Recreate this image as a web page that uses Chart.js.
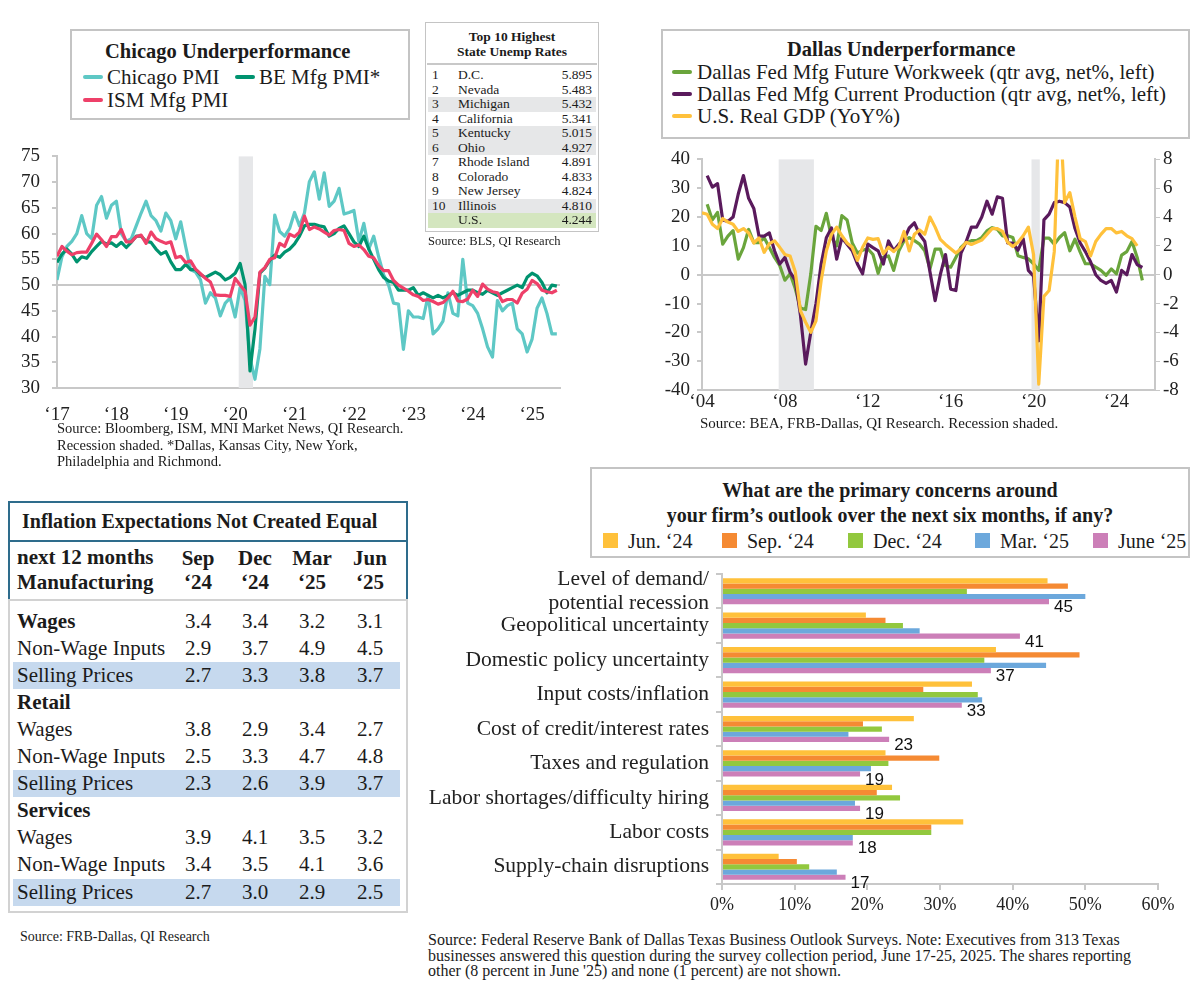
<!DOCTYPE html>
<html>
<head>
<meta charset="utf-8">
<title>Regional manufacturing</title>
<script src="https://cdn.jsdelivr.net/npm/chart.js@4.4.1/dist/chart.umd.min.js"></script>
<style>
  body { margin: 0; background: #fff; }
  #page { position: relative; width: 1200px; height: 993px; overflow: hidden; font-family: "Liberation Serif", serif; color: #1b1b1b; }
  .abs { position: absolute; white-space: nowrap; }
  .box { position: absolute; border: 2px solid #c4c4c4; background: #fff; box-sizing: border-box; }
  .key { position: absolute; height: 4px; width: 20px; border-radius: 2px; }
  .sq { position: absolute; width: 15px; height: 15px; }
  .b { font-weight: bold; }
</style>
</head>
<body>
<div id="page">
  <canvas id="chiChart" class="abs" width="575" height="290" style="left:0;top:133px"></canvas>
  <canvas id="dalChart" class="abs" width="560" height="280" style="left:640px;top:141px"></canvas>
  <canvas id="barChart" class="abs" width="780" height="365" style="left:420px;top:555px"></canvas>

  <!-- Chicago legend -->
  <div class="box" style="left:70px;top:29px;width:340px;height:91px"></div>
  <div class="abs b" style="left:105px;top:39px;font-size:20.5px;line-height:24px">Chicago Underperformance</div>
  <div class="key" style="left:83px;top:75px;background:#5ec8c5"></div>
  <div class="abs" style="left:107px;top:65px;font-size:21px;line-height:24px">Chicago PMI</div>
  <div class="key" style="left:235px;top:75px;background:#00936f"></div>
  <div class="abs" style="left:259px;top:65px;font-size:21px;line-height:24px">BE Mfg PMI*</div>
  <div class="key" style="left:83px;top:98px;background:#ee4069"></div>
  <div class="abs" style="left:107px;top:88px;font-size:21px;line-height:24px">ISM Mfg PMI</div>

  <!-- Top 10 table -->
  <div id="top10"></div>
  <div class="abs" style="left:428px;top:233px;font-size:12.5px;line-height:16px">Source: BLS, QI Research</div>

  <div class="abs" style="left:57px;top:420px;font-size:14.5px;line-height:16.5px">Source: Bloomberg, ISM, MNI Market News, QI Research.<br>Recession shaded. *Dallas, Kansas City, New York,<br>Philadelphia and Richmond.</div>

  <!-- Dallas legend -->
  <div class="box" style="left:661px;top:29px;width:529px;height:110px"></div>
  <div class="abs b" style="left:787px;top:37px;font-size:20.5px;line-height:24px">Dallas Underperformance</div>
  <div class="key" style="left:672px;top:70px;background:#6aa53c"></div>
  <div class="abs" style="left:697px;top:60px;font-size:21px;line-height:24px">Dallas Fed Mfg Future Workweek (qtr avg, net%, left)</div>
  <div class="key" style="left:672px;top:92px;background:#5a1a5c"></div>
  <div class="abs" style="left:697px;top:82px;font-size:21px;line-height:24px">Dallas Fed Mfg Current Production (qtr avg, net%, left)</div>
  <div class="key" style="left:672px;top:114px;background:#ffc13b"></div>
  <div class="abs" style="left:697px;top:104px;font-size:21px;line-height:24px">U.S. Real GDP (YoY%)</div>
  <div class="abs" style="left:700px;top:414px;font-size:15px;line-height:18px">Source: BEA, FRB-Dallas, QI Research. Recession shaded.</div>

  <!-- Inflation table -->
  <div id="infl"></div>
  <div class="abs" style="left:20px;top:928px;font-size:14px;line-height:18px">Source: FRB-Dallas, QI Research</div>

  <!-- Survey legend -->
  <div class="box" style="left:590px;top:467px;width:600px;height:91px"></div>
  <div class="abs b" style="left:590px;top:478px;width:600px;text-align:center;font-size:20px;line-height:25px">What are the primary concerns around<br>your firm’s outlook over the next six months, if any?</div>
  <div id="barKey"></div>

  <div class="abs" style="left:428px;top:932px;font-size:16px;line-height:15.5px">Source: Federal Reserve Bank of Dallas Texas Business Outlook Surveys. Note: Executives from 313 Texas<br>businesses answered this question during the survey collection period, June 17-25, 2025. The shares reporting<br>other (8 percent in June '25) and none (1 percent) are not shown.</div>
</div>

<script>
// ---------- Chicago PMI panel (monthly, Jan 2017 - Jun 2025) ----------
const chiStartYear = 2017;
const chicagoPmi = [
  51, 55.5, 57.5, 58.5, 60, 63.5, 60, 59, 65.5, 67.2, 63, 65.5,
  66.3, 60, 58.5, 59, 61.5, 64, 66.3, 63.5, 62.5, 60.5, 64, 62.5,
  59, 62.3, 57.5, 53, 52.5, 51, 46.5, 48.5, 47.5, 44, 46.5, 47.5,
  43.8, 49.5, 47, 35.8, 31.7, 37.6, 51.7, 50.1, 63.6, 60.4, 59.5, 61,
  64.1, 61.5, 64, 70.1, 72, 66.7, 71.8, 65.3, 66.3, 68.8, 63.8, 64.1,
  64.5, 58.5, 62, 57, 59.5, 55.5, 52, 50, 46.5, 46.3, 37.5, 45,
  43.8, 43.8, 43.5, 48, 40.5, 41.5, 43, 48.5, 44.5, 44, 55, 46.5,
  46, 44.5, 41.5, 38, 36, 47, 45, 46, 46.5, 41.5, 40.5, 37,
  39.5, 45.5, 47.5, 44.5, 40.5, 40.5
];
const beMfgPmi = [
  54.4, 56, 57, 56, 54.5, 55.5, 55.2, 56.5, 57.5, 58.5, 58, 58.2,
  57.5, 58.3, 57.3, 58.3, 59.5, 59.5, 58.5, 58.3, 57, 56, 56.5, 54.5,
  53, 53, 54, 53, 53, 52, 51.5, 52, 52.5, 52, 51, 51.5,
  52.3, 54.2, 50.1, 33.3, 41.4, 52.3, 53.3, 54.8, 55.8, 55.4, 56.4, 57,
  58, 59.5, 61.5, 61.8, 61.8, 61.5, 61.3, 59.5, 60, 61, 61.5, 60,
  58.4, 57.5, 59.5, 57, 55, 53, 51.5, 50.8, 50.5, 49, 49, 49,
  49.5, 48, 48.5, 48, 47.5, 48, 47.5, 48, 48.5, 48, 48.5, 49,
  49, 48.5, 48.2, 49, 48.5, 48, 48.5, 49, 49.5, 50, 49.5, 51.5,
  52.3, 51.8, 50.5, 48.5, 50, 49.8
];
const ismMfgPmi = [
  55.6, 57.5, 56.6, 55.9, 56.3, 56.4, 56.4, 58.1, 59.9, 58.8, 57.5, 59.4,
  59.4, 60.8, 58.4, 58.4, 59.4, 59.7, 58.1, 60.3, 59, 58.5, 58.1, 58.4,
  55.3, 55.6, 54.4, 54.7, 53.1, 52.2, 51.3, 50.6, 48.1, 48, 48, 47.8,
  51.3, 50, 48.8, 42.2, 43.8, 52.5, 53.4, 55, 55.3, 58.1, 57.5, 59.9,
  59.4, 60.3, 63.4, 60.8, 61.3, 60.9, 60.3, 59.7, 60.6, 60.8, 60.6, 58.1,
  57.5, 57.8, 56.9, 55.6, 55.3, 53.8, 52.8, 52.8, 50.9, 50, 49.4, 48.8,
  48.1, 47.8, 47, 47.2, 46.8, 46.3, 46.6, 47.5, 48.8, 46.9, 46.8, 47.3,
  49, 47.8, 50.2, 49.2, 48.7, 48.5, 46.8, 47.2, 47.2, 46.5, 48.4, 49.2,
  50.9, 50.3, 49, 48.7, 48.5, 49
];
const chiYearTicks = [2017, 2018, 2019, 2020, 2021, 2022, 2023, 2024, 2025];
const chiRecessions = [[2020.06, 2020.3]];

// ---------- Dallas panel (quarterly, Q1 2004 - Q2 2025) ----------
const dalStartYear = 2004;
const dalWorkweek = [
  null, 24.4, 19, 21.6, 10.6, 13.4, 15.3, 5.4, 9.4, 15.7, 11.1, 11.1,
  12.8, 9.4, 6, 3.2, -1.9, 0.3, -4.8, -11.6, -12.1, 0.3, 16.8, 15.3,
  21.3, 13, 10, 20.5, 19, 11, 7.5, 8.5, 9, 7, 0.5, 6,
  6.5, 1.5, 8.3, 11.8, 12.9, 11.8, 10.6, 8.3, 2, 8.9, 8.9, 3.2,
  2.6, 6, 9.5, 11.2, 11.8, 11.8, 12.9, 15.2, 16.3, 15.8, 13.5, 13.5,
  12.9, 6.6, 6, 5.5, 3.8, 1.5, 12.7, 12.7, 10.6, 12.9, 14.6, 8.3,
  12.3, 7.8, 3.8, 3.8, 2.6, 1.5, -0.2, 2, 0.3, 6.8, 8, 11.5,
  6, -2
];
const dalProduction = [
  null, 34.4, 30.4, 31.6, 19, 18.5, 20, 28, 34.4, 26.5, 23, 13.4,
  13.4, 14.5, 8.3, 3.7, 6, 0.9, -1.9, -14, -31, -20, -10, 3.7,
  12.8, 16.2, 5.4, 12.8, 10.6, 8.3, 3.7, 0.3, 10.6, 9.4, 8.3, 3.7,
  11.7, 8.3, 10.6, 12.3, 16.2, 18, 14, 11.5, 1, -9, 0, 7,
  -5, -5.5, 7.5, 11.5, 16.5, 16.5, 20, 25.5, 21, 27, 26.5, 11,
  11, 8.5, 12.5, 1.5, -0.5, -23, 19, 21, 25, 25.5, 25, 23.5,
  16, 11, 8, 4.5, 0, -2, -3, -2, -6, 1.5, 0, 7,
  3.5, 2.5
];
const usRealGdp = [
  4.3, 4.2, 3.5, 3.2, 3.9, 3.65, 3.5, 3.0, 3.2, 2.9, 2.2, 2.55,
  1.55, 2.15, 2.35, 1.9, 1.4, 1.3, 0.2, -2.5, -3.3, -4.0, -3.2, -0.4,
  1.65, 2.8, 3.3, 2.7, 2.2, 1.9, 1.0, 1.9, 2.55, 2.45, 2.5, 1.45,
  1.9, 1.6, 1.95, 3.0, 1.65, 2.8, 3.1, 2.8, 4.0, 3.3, 2.45, 2.1,
  1.8, 1.5, 1.8, 2.25, 2.1, 2.25, 2.4, 2.8, 3.2, 3.2, 3.0, 2.25,
  1.95, 2.25, 2.7, 3.3, 1.4, -7.6, -1.5, -1.1, 1.6, 12.0, 5.0, 5.7,
  4.0, 2.5, 2.3, 1.3, 2.3, 2.8, 3.2, 3.2, 2.9, 3.0, 2.7, 2.5,
  2.0, null
];
const dalYearTicks = [2004, 2008, 2012, 2016, 2020, 2024];
const dalRecessions = [[2007.7, 2009.4], [2019.9, 2020.3]];

// ---------- Survey: primary concerns ----------
const concernLabels = [
  ['Level of demand/', 'potential recession'], 'Geopolitical uncertainty',
  'Domestic policy uncertainty', 'Input costs/inflation', 'Cost of credit/interest rates',
  'Taxes and regulation', 'Labor shortages/difficulty hiring', 'Labor costs', 'Supply-chain disruptions'
];
const surveyNames = ['Jun. ‘24', 'Sep. ‘24', 'Dec. ‘24', 'Mar. ‘25', 'June ‘25'];
const jun24 = [44.8, 19.8, 37.7, 34.4, 26.4, 22.5, 23.4, 33.2, 7.8];
const sep24 = [47.6, 22.5, 49.2, 27.7, 19.4, 29.9, 21.3, 28.8, 10.3];
const dec24 = [33.7, 24.9, 36.1, 35.2, 22.0, 22.9, 24.5, 28.8, 12.0];
const mar25 = [50.0, 27.2, 44.6, 35.8, 17.4, 20.5, 18.3, 18.0, 15.8];
const jun25 = [45, 41, 37, 33, 23, 19, 19, 18, 17];
const surveyColors = ['#ffc13b', '#f58a33', '#92c83e', '#6ca8dc', '#cc7fb8'];

// ---------- Top 10 state unemployment ----------
const stateNames = ['D.C.', 'Nevada', 'Michigan', 'California', 'Kentucky', 'Ohio', 'Rhode Island', 'Colorado', 'New Jersey', 'Illinois'];
const stateRates = ['5.895', '5.483', '5.432', '5.341', '5.015', '4.927', '4.891', '4.833', '4.824', '4.810'];
const usRate = '4.244';
const shadedStates = [2, 4, 5, 9];

// ---------- Inflation expectations table ----------
const inflCols = [['Sep', '‘24'], ['Dec', '‘24'], ['Mar', '‘25'], ['Jun', '‘25']];
const inflRows = [
  ['Wages', [3.4, 3.4, 3.2, 3.1], 'bold'],
  ['Non-Wage Inputs', [2.9, 3.7, 4.9, 4.5], ''],
  ['Selling Prices', [2.7, 3.3, 3.8, 3.7], 'shade'],
  ['Retail', null, 'bold'],
  ['Wages', [3.8, 2.9, 3.4, 2.7], ''],
  ['Non-Wage Inputs', [2.5, 3.3, 4.7, 4.8], ''],
  ['Selling Prices', [2.3, 2.6, 3.9, 3.7], 'shade'],
  ['Services', null, 'bold'],
  ['Wages', [3.9, 4.1, 3.5, 3.2], ''],
  ['Non-Wage Inputs', [3.4, 3.5, 4.1, 3.6], ''],
  ['Selling Prices', [2.7, 3.0, 2.9, 2.5], 'shade']
];

// ---------- helpers ----------
const SERIF = '"Liberation Serif", serif';
const axisGrey = '#c8c8c8';
function monthly(start, vals) { return vals.map((v, i) => ({ x: start + i / 12, y: v })); }
function quarterly(start, vals) { return vals.map((v, i) => ({ x: start + i / 4, y: v })); }
function yr(v) { return '‘' + String(v).slice(2); }

const shadePlugin = {
  id: 'shade',
  beforeDatasetsDraw(chart, args, opts) {
    const { ctx, chartArea, scales: { x } } = chart;
    ctx.save();
    ctx.fillStyle = '#e6e7e9';
    opts.spans.forEach(([a, b]) => {
      const x0 = x.getPixelForValue(a), x1 = x.getPixelForValue(b);
      ctx.fillRect(x0, chartArea.top, x1 - x0, chartArea.bottom - chartArea.top);
    });
    ctx.restore();
  }
};

// Chicago chart
new Chart(document.getElementById('chiChart'), {
  type: 'line',
  data: {
    datasets: [
      { label: 'ISM Mfg PMI', data: monthly(chiStartYear, ismMfgPmi), borderColor: '#ee4069' },
      { label: 'BE Mfg PMI*', data: monthly(chiStartYear, beMfgPmi), borderColor: '#00936f' },
      { label: 'Chicago PMI', data: monthly(chiStartYear, chicagoPmi), borderColor: '#5ec8c5' }
    ]
  },
  options: {
    responsive: false, animation: false,
    elements: { point: { radius: 0 }, line: { borderWidth: 3.2, tension: 0, borderJoinStyle: 'round' } },
    layout: { padding: { top: 14, right: 15, left: 0, bottom: 0 } },
    plugins: { legend: { display: false }, tooltip: { enabled: false }, shade: { spans: chiRecessions } },
    scales: {
      x: {
        type: 'linear', min: 2017, max: 2025.47,
        afterBuildTicks: s => { s.ticks = chiYearTicks.map(v => ({ value: v })); },
        afterFit: s => { s.height = 35; },
        ticks: { callback: v => yr(v), font: { family: SERIF, size: 19 }, color: '#222', padding: 8, maxRotation: 0, autoSkip: false },
        grid: { display: false },
        border: { color: axisGrey, width: 2 }
      },
      y: {
        min: 30, max: 75,
        afterFit: s => { s.width = 57; },
        ticks: { stepSize: 5, autoSkip: false, font: { family: SERIF, size: 19 }, color: '#222', padding: 12 },
        grid: { color: c => (c.tick && c.tick.value === 50) ? axisGrey : 'rgba(0,0,0,0)', lineWidth: 2, tickLength: 5, tickColor: axisGrey },
        border: { color: axisGrey, width: 2 }
      }
    }
  },
  plugins: [shadePlugin]
});

// Dallas chart
new Chart(document.getElementById('dalChart'), {
  type: 'line',
  data: {
    datasets: [
      { label: 'U.S. Real GDP (YoY%)', data: quarterly(dalStartYear, usRealGdp), borderColor: '#ffc13b', yAxisID: 'y2' },
      { label: 'Dallas Fed Mfg Current Production', data: quarterly(dalStartYear, dalProduction), borderColor: '#5a1a5c', yAxisID: 'y' },
      { label: 'Dallas Fed Mfg Future Workweek', data: quarterly(dalStartYear, dalWorkweek), borderColor: '#6aa53c', yAxisID: 'y' }
    ]
  },
  options: {
    responsive: false, animation: false,
    elements: { point: { radius: 0 }, line: { borderWidth: 3.2, tension: 0, borderJoinStyle: 'round' } },
    layout: { padding: { top: 14, right: 0, left: 0, bottom: 0 } },
    plugins: { legend: { display: false }, tooltip: { enabled: false }, shade: { spans: dalRecessions } },
    scales: {
      x: {
        type: 'linear', min: 2004, max: 2025.86,
        afterBuildTicks: s => { s.ticks = dalYearTicks.map(v => ({ value: v })); },
        afterFit: s => { s.height = 31; },
        ticks: { callback: v => yr(v), font: { family: SERIF, size: 19 }, color: '#222', padding: 1, maxRotation: 0, autoSkip: false },
        grid: { display: false, drawTicks: false },
        border: { color: axisGrey, width: 2 }
      },
      y: {
        position: 'left', min: -40, max: 40,
        afterFit: s => { s.width = 62; },
        ticks: { stepSize: 10, autoSkip: false, font: { family: SERIF, size: 19 }, color: '#222', padding: 7 },
        grid: { color: c => (c.tick && c.tick.value === 0) ? axisGrey : 'rgba(0,0,0,0)', lineWidth: 2, tickLength: 5, tickColor: axisGrey },
        border: { color: axisGrey, width: 2 }
      },
      y2: {
        position: 'right', min: -8, max: 8,
        afterFit: s => { s.width = 45; },
        ticks: { stepSize: 2, autoSkip: false, font: { family: SERIF, size: 19 }, color: '#222', padding: 3 },
        grid: { drawOnChartArea: false, tickLength: 5, tickColor: axisGrey, color: axisGrey },
        border: { color: axisGrey, width: 2 }
      }
    }
  },
  plugins: [shadePlugin]
});

// Survey bar chart
const barLabelPlugin = {
  id: 'barLabels',
  afterDatasetsDraw(chart) {
    const meta = chart.getDatasetMeta(4);
    const ctx = chart.ctx;
    ctx.save();
    ctx.font = '17px "Liberation Sans Narrow", "Liberation Sans", sans-serif';
    ctx.fillStyle = '#111';
    ctx.textBaseline = 'middle';
    meta.data.forEach((el, i) => ctx.fillText(String(jun25[i]), el.x + 5, el.y + 6));
    ctx.restore();
  }
};
const surveySeries = [jun24, sep24, dec24, mar25, jun25];
new Chart(document.getElementById('barChart'), {
  type: 'bar',
  data: {
    labels: concernLabels,
    datasets: surveySeries.map((d, i) => ({
      label: surveyNames[i], data: d, backgroundColor: surveyColors[i],
      categoryPercentage: 0.76, barPercentage: 1.0
    }))
  },
  options: {
    indexAxis: 'y', responsive: false, animation: false,
    layout: { padding: { top: 14, right: 42, left: 0, bottom: 0 } },
    plugins: { legend: { display: false }, tooltip: { enabled: false } },
    scales: {
      x: {
        min: 0, max: 60,
        afterFit: s => { s.height = 36; },
        ticks: { stepSize: 10, callback: v => v + '%', font: { family: SERIF, size: 18 }, color: '#222', padding: 4 },
        grid: { drawOnChartArea: false, tickLength: 6, color: axisGrey, lineWidth: 2 },
        border: { color: axisGrey, width: 2 }
      },
      y: {
        afterFit: s => { s.width = 302; },
        ticks: { autoSkip: false, font: { family: SERIF, size: 21.5, lineHeight: 1.12 }, color: '#222', padding: 7 },
        grid: { drawOnChartArea: false, tickLength: 6, color: axisGrey, lineWidth: 2 },
        border: { color: axisGrey, width: 2 }
      }
    }
  },
  plugins: [barLabelPlugin]
});

// Survey legend keys
const keyX = [603, 722, 848, 975, 1093];
document.getElementById('barKey').innerHTML = surveyNames.map((n, i) =>
  `<div class="sq" style="left:${keyX[i]}px;top:533px;background:${surveyColors[i]}"></div>` +
  `<div class="abs" style="left:${keyX[i] + 25}px;top:529px;font-size:20px;line-height:24px">${n}</div>`
).join('');

// Top 10 table
(function () {
  let html = '<div class="box" style="left:425px;top:22px;width:174px;height:210px;border-width:1.5px"></div>';
  html += '<div class="abs b" style="left:425px;top:29px;width:174px;text-align:center;font-size:13.5px;line-height:15px">Top 10 Highest<br>State Unemp Rates</div>';
  html += '<div class="abs" style="left:427px;top:63px;width:170px;height:1.5px;background:#c8c8c8"></div>';
  const rowTop = 68, rowH = 14.5;
  stateNames.forEach((n, i) => {
    const top = rowTop + i * rowH;
    const bg = shadedStates.includes(i) ? '#e6e7e8' : 'transparent';
    html += `<div class="abs" style="left:428px;top:${top}px;width:168px;height:${rowH}px;background:${bg}"></div>`;
    html += `<div class="abs" style="left:432px;top:${top}px;font-size:13.5px;line-height:${rowH}px">${i + 1}</div>`;
    html += `<div class="abs" style="left:458px;top:${top}px;width:84px;overflow:hidden;font-size:13.5px;line-height:${rowH}px">${n}</div>`;
    html += `<div class="abs" style="left:540px;top:${top}px;width:52px;text-align:right;font-size:13.5px;line-height:${rowH}px">${stateRates[i]}</div>`;
  });
  const top = rowTop + 10 * rowH;
  html += `<div class="abs" style="left:428px;top:${top}px;width:168px;height:${rowH}px;background:#d4e6bf"></div>`;
  html += `<div class="abs" style="left:458px;top:${top}px;font-size:13.5px;line-height:${rowH}px">U.S.</div>`;
  html += `<div class="abs" style="left:540px;top:${top}px;width:52px;text-align:right;font-size:13.5px;line-height:${rowH}px">${usRate}</div>`;
  document.getElementById('top10').innerHTML = html;
})();

// Inflation expectations table
(function () {
  const blue = '#2e6c8c';
  const colX = [198, 255, 312, 370];
  let html = '';
  html += `<div class="box" style="left:8px;top:501px;width:400px;height:41px;border-color:${blue}"></div>`;
  html += `<div class="abs b" style="left:22px;top:508px;font-size:20px;line-height:26px">Inflation Expectations Not Created Equal</div>`;
  html += `<div class="box" style="left:8px;top:540px;width:400px;height:61px;border-color:${blue}"></div>`;
  html += `<div class="box" style="left:8px;top:599px;width:400px;height:314px;border-color:#d2d2d2;background:transparent"></div>`;
  html += `<div class="abs b" style="left:17px;top:545px;font-size:21px;line-height:25px">next 12 months<br>Manufacturing</div>`;
  inflCols.forEach((c, i) => {
    html += `<div class="abs b" style="left:${colX[i] - 30}px;top:546px;width:60px;text-align:center;font-size:21px;line-height:24px">${c[0]}<br>${c[1]}</div>`;
  });
  const rowTop = 607.5, rowH = 27.1;
  inflRows.forEach((r, i) => {
    const top = rowTop + i * rowH;
    if (r[2] === 'shade') html += `<div class="abs" style="left:13px;top:${top}px;width:387px;height:${rowH}px;background:#c6d9ee"></div>`;
    html += `<div class="abs${r[2] === 'bold' ? ' b' : ''}" style="left:17px;top:${top}px;font-size:21px;line-height:${rowH}px">${r[0]}</div>`;
    if (r[1]) r[1].forEach((v, j) => {
      html += `<div class="abs" style="left:${colX[j] - 30}px;top:${top}px;width:60px;text-align:center;font-size:21px;line-height:${rowH}px">${v.toFixed(1)}</div>`;
    });
  });
  document.getElementById('infl').innerHTML = html;
})();
</script>
</body>
</html>
